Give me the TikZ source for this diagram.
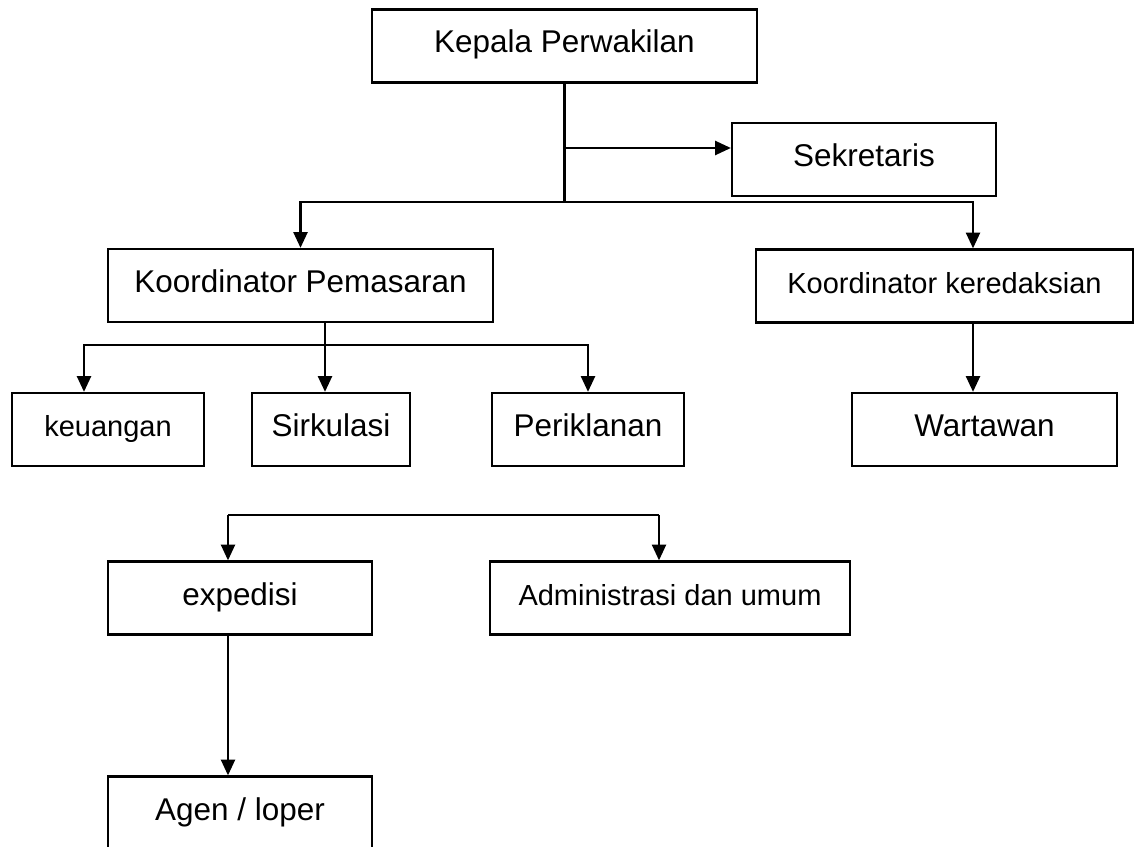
\documentclass[tikz,border=0pt]{standalone}
\usepackage{fontspec}
\setmainfont{Liberation Sans}
\usetikzlibrary{arrows.meta}

\begin{document}
\begin{tikzpicture}[line width=1.3pt,
  box/.style={draw, rectangle, minimum height=1.46cm, inner sep=0pt,
    text height=0.44cm, text depth=0.16cm, font=\fontsize{17.9}{20}\selectfont},
  boxsm/.style={box, font=\fontsize{16.5}{19}\selectfont},
  arr/.style={-{Triangle[length=9pt,width=8pt]}}]
\useasboundingbox (0,0) rectangle (22.76,-16.92);

\node[box, minimum width=7.70cm] (kepala) at (11.29,-0.92) {Kepala Perwakilan};
\node[box, minimum width=5.28cm] (sek) at (17.28,-3.19) {Sekretaris};
\node[box, minimum width=7.70cm] (kpm) at (6.01,-5.71) {Koordinator Pemasaran};
\node[boxsm, minimum width=7.54cm] (kred) at (18.89,-5.72) {Koordinator keredaksian};
\node[boxsm, minimum width=3.84cm] (keu) at (2.16,-8.59) {keuangan};
\node[box, minimum width=3.16cm] (sirk) at (6.62,-8.59) {Sirkulasi};
\node[box, minimum width=3.84cm] (ikl) at (11.76,-8.59) {Periklanan};
\node[box, minimum width=5.30cm] (war) at (19.69,-8.59) {Wartawan};
\node[box, minimum width=5.28cm] (exp) at (4.80,-11.96) {expedisi};
\node[boxsm, minimum width=7.20cm] (adm) at (13.40,-11.96) {Administrasi dan umum};
\node[box, minimum width=5.28cm] (agen) at (4.80,-16.26) {Agen / loper};

% titik cabang
\coordinate (tKP) at (11.29,-4.04);
\coordinate (tSek) at (11.29,-2.96);
\coordinate (xRed) at (19.46,0);
\coordinate (tPem) at (6.50,-6.90);
\coordinate (xKeu) at (1.68,0);
\coordinate (tExp) at (4.56,-10.30);
\coordinate (tAdm) at (13.18,-10.30);

\draw (kepala.south) -- (tKP);
\draw[arr] (tSek) -- (tSek -| sek.west);
\draw[arr] (tKP) -| (kpm.north);
\draw[arr] (tKP) -| (kred.north -| xRed);
\draw[arr] (kred.south -| xRed) -- (war.north -| xRed);

\draw (kpm.south -| tPem) -- (tPem);
\draw[arr] (tPem) -| (keu.north -| xKeu);
\draw[arr] (tPem) -- (sirk.north -| tPem);
\draw[arr] (tPem) -| (ikl.north);

\draw (tExp) -- (tAdm);
\draw[arr] (tExp) -- (exp.north -| tExp);
\draw[arr] (tAdm) -- (adm.north -| tAdm);
\draw[arr] (exp.south -| tExp) -- (agen.north -| tExp);

\end{tikzpicture}
\end{document}
